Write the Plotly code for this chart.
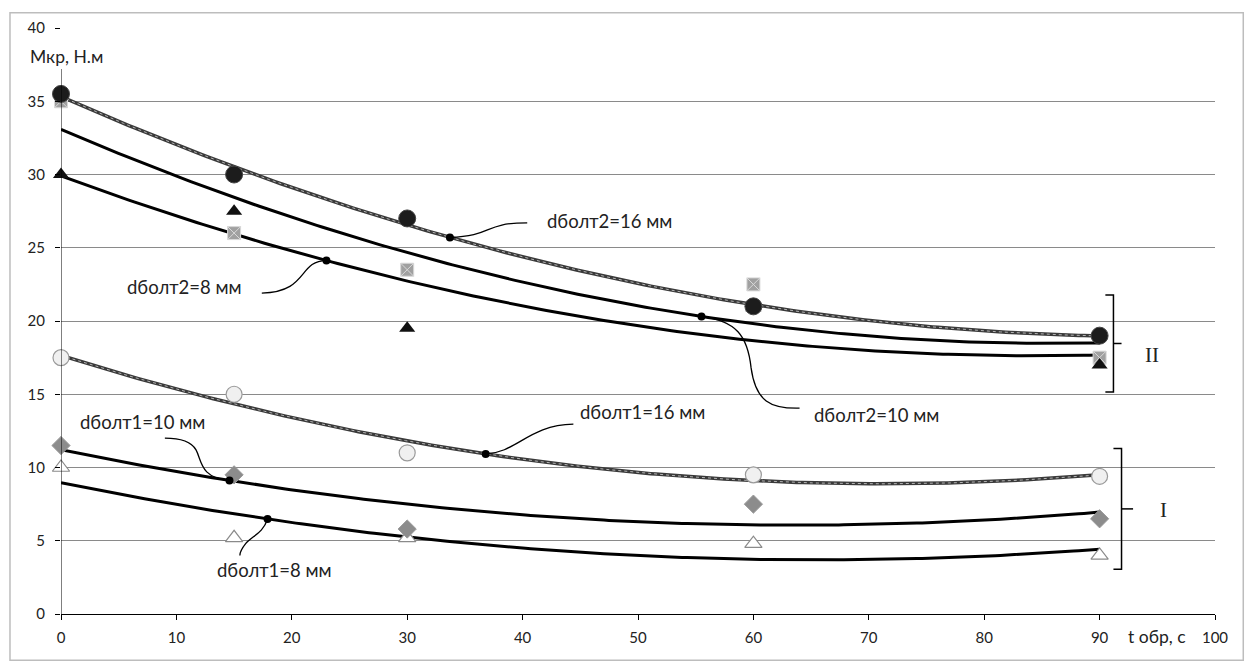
import numpy as np
import plotly.graph_objects as go

# ---------------- data ----------------
t_obr = [0, 15, 30, 60, 90]
m2_16 = [35.5, 30.0, 27.0, 21.0, 19.0]
m2_10 = [35.0, 26.0, 23.5, 22.5, 17.5]
m2_8 = [30.0, 27.5, 19.5, 20.9, 17.0]
m1_16 = [17.5, 15.0, 11.0, 9.5, 9.4]
m1_10 = [11.5, 9.5, 5.8, 7.5, 6.5]
m1_8 = [10.0, 5.2, 5.2, 4.8, 4.0]

x_ticks = [0, 10, 20, 30, 40, 50, 60, 70, 80, 90, 100]
y_ticks = [0, 5, 10, 15, 20, 25, 30, 35, 40]

labels = ["dболт2=16 мм", "dболт2=8 мм", "dболт2=10 мм",
          "dболт1=16 мм", "dболт1=10 мм", "dболт1=8 мм"]
label_dot_x = [33.7, 23.0, 55.5, 36.8, 14.6, 17.9]

FONT = "Lato"

fig = go.Figure()

series = [m2_16, m2_8, m2_10, m1_16, m1_10, m1_8]
fits = [np.poly1d(np.polyfit(t_obr, s, 2)) for s in series]
xx = np.linspace(min(t_obr), max(t_obr), 200)

# trend lines
gray_idx = {0, 3}
for i, f in enumerate(fits):
    if i in gray_idx:
        fig.add_trace(go.Scatter(x=xx, y=f(xx), mode="lines", cliponaxis=False,
                                 line=dict(color="#3a3a3a", width=3.5),
                                 hoverinfo="skip", showlegend=False))
        fig.add_trace(go.Scatter(x=xx, y=f(xx), mode="lines", cliponaxis=False,
                                 line=dict(color="#b5b5b5", width=1, dash="dot"),
                                 hoverinfo="skip", showlegend=False))
    else:
        fig.add_trace(go.Scatter(x=xx, y=f(xx), mode="lines", cliponaxis=False,
                                 line=dict(color="#000000", width=3),
                                 hoverinfo="skip", showlegend=False))

# markers
fig.add_trace(go.Scatter(x=t_obr, y=m1_8, mode="markers", showlegend=False, cliponaxis=False,
                         marker=dict(symbol="triangle-up", size=15, color="white",
                                     line=dict(color="#8a8a8a", width=1.2))))
fig.add_trace(go.Scatter(x=t_obr, y=m1_10, mode="markers", showlegend=False, cliponaxis=False,
                         marker=dict(symbol="diamond", size=14, color="#8c8c8c",
                                     line=dict(color="#9a9a9a", width=1))))
fig.add_trace(go.Scatter(x=t_obr, y=m1_16, mode="markers", showlegend=False, cliponaxis=False,
                         marker=dict(symbol="circle", size=16, color="#f0f0f0",
                                     line=dict(color="#9a9a9a", width=1.2))))
fig.add_trace(go.Scatter(x=t_obr, y=m2_10, mode="markers", showlegend=False, cliponaxis=False,
                         marker=dict(symbol="square-x", size=13, color="#a0a0a0",
                                     line=dict(color="#d8d8d8", width=1))))
fig.add_trace(go.Scatter(x=t_obr, y=m2_8, mode="markers", showlegend=False, cliponaxis=False,
                         marker=dict(symbol="triangle-up", size=14, color="#111111",
                                     line=dict(color="#111111", width=0))))
fig.add_trace(go.Scatter(x=t_obr, y=m2_16, mode="markers", showlegend=False, cliponaxis=False,
                         marker=dict(symbol="circle", size=17, color="#1c1c1c",
                                     line=dict(color="#444444", width=1))))

# label dots on curves
dot_y = [f(x) for f, x in zip(fits, label_dot_x)]
fig.add_trace(go.Scatter(x=label_dot_x, y=dot_y, mode="markers", showlegend=False,
                         marker=dict(symbol="circle", size=8, color="#000000")))

shapes = []
# leader lines (curved)
leader_paths = [
    f"M {label_dot_x[0]},{dot_y[0]} C 37.5,25.8 36.5,26.7 40.4,26.7",
    f"M {label_dot_x[1]},{dot_y[1]} C 20.5,24.1 21.5,22.0 17.4,21.9",
    f"M {label_dot_x[2]},{dot_y[2]} C 58.5,20.0 59.5,19.0 59.8,16.8 C 60.2,14.5 61.5,14.0 64.0,14.05",
    f"M {label_dot_x[3]},{dot_y[3]} C 39.5,11.0 40.5,12.9 44.4,12.96",
    f"M {label_dot_x[4]},{dot_y[4]} C 12.0,9.3 12.2,10.5 11.7,11.2 C 11.2,11.9 10.0,12.0 9.0,12.0",
    f"M {label_dot_x[5]},{dot_y[5]} C 17.5,5.5 16.5,5.3 16.0,4.8 C 15.6,4.4 15.5,4.2 15.5,4.0",
]
for p in leader_paths:
    shapes.append(dict(type="path", xref="x", yref="y", path=p,
                       line=dict(color="#000000", width=1.3)))

# brackets
def bracket(xv, y0, y1, xl, xr):
    ym = (y0 + y1) / 2
    return [
        dict(type="path", xref="x", yref="y",
             path=f"M {xl},{y0} L {xv},{y0} L {xv},{y1} L {xl},{y1}",
             line=dict(color="#000000", width=1.5)),
        dict(type="line", xref="x", yref="y", x0=xv, x1=xr, y0=ym, y1=ym,
             line=dict(color="#000000", width=1.5)),
    ]

shapes += bracket(91.2, 21.78, 15.15, 90.5, 91.9)
shapes += bracket(91.9, 11.3, 3.05, 91.2, 92.9)

# y axis line (interrupted by the title)
shapes.append(dict(type="line", xref="x", yref="y", x0=0, x1=0, y0=0, y1=37.2,
                   line=dict(color="#000000", width=1)))
# outer border
shapes.append(dict(type="rect", xref="paper", yref="paper",
                   x0=-0.0442, x1=1.0245, y0=-0.079, y1=1.026,
                   line=dict(color="#bdbdbd", width=1.5)))

annotations = []
label_pos = [
    (41.9, 26.8, "left"),
    (15.9, 22.3, "right"),
    (65.1, 13.6, "left"),
    (44.8, 13.8, "left"),
    (7.06, 13.1, "center"),
    (18.5, 2.97, "center"),
]
for txt, (lx, ly, anc) in zip(labels, label_pos):
    annotations.append(dict(x=lx, y=ly, xref="x", yref="y", text=txt,
                            showarrow=False, xanchor=anc, yanchor="middle",
                            font=dict(family=FONT, size=18.5, color="#222222")))

annotations.append(dict(x=94.5, y=17.7, xref="x", yref="y", text="II", showarrow=False,
                        font=dict(family="Liberation Serif", size=21, color="#222222")))
annotations.append(dict(x=95.5, y=7.1, xref="x", yref="y", text="I", showarrow=False,
                        font=dict(family="Liberation Serif", size=21, color="#222222")))
annotations.append(dict(x=-0.0286, y=0.952, xref="paper", yref="paper", text="Мкр, Н.м",
                        showarrow=False, xanchor="left", yanchor="middle",
                        font=dict(family=FONT, size=17.5, color="#222222")))
annotations.append(dict(x=0.950, y=-0.0384, xref="paper", yref="paper", text="t обр, с",
                        showarrow=False, xanchor="center", yanchor="middle",
                        font=dict(family=FONT, size=17.5, color="#222222")))

fig.update_layout(
    width=1254, height=668,
    margin=dict(l=61, r=39, t=28, b=54),
    paper_bgcolor="white", plot_bgcolor="white",
    showlegend=False,
    shapes=shapes, annotations=annotations,
    font=dict(family=FONT, size=15, color="#222222"),
    xaxis=dict(range=[0, 100], tickvals=x_ticks,
               showgrid=False, zeroline=False, showline=True, linecolor="#000000",
               linewidth=1.3, ticks="outside", ticklen=5, tickcolor="#000000",
               ticklabelstandoff=5,
               tickfont=dict(family=FONT, size=15, color="#222222")),
    yaxis=dict(range=[0, 40], tickvals=y_ticks, showgrid=True, gridcolor="#8a8a8a",
               gridwidth=1, zeroline=False, showline=False, ticks="outside",
               ticklen=5, tickcolor="#000000", ticklabelstandoff=7,
               tickfont=dict(family=FONT, size=15, color="#222222")),
)

fig.write_html("out.html")
